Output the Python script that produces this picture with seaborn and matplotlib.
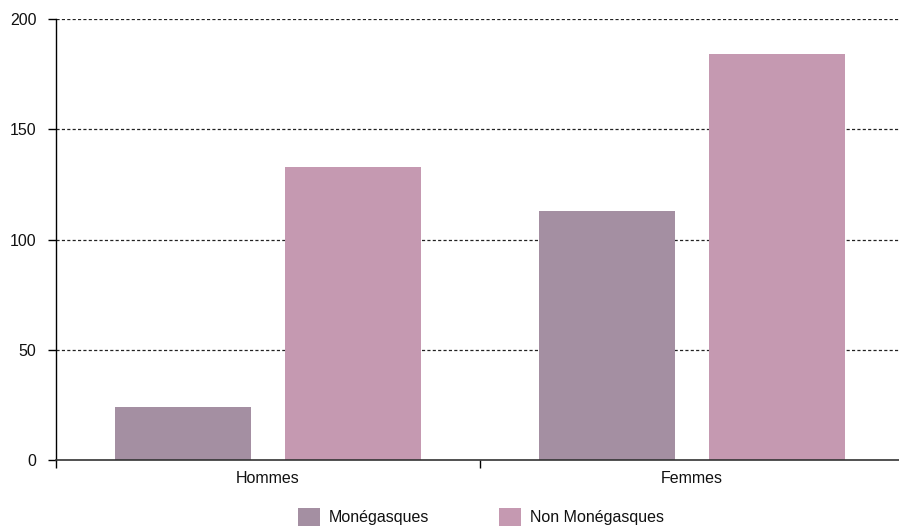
import matplotlib
matplotlib.use("Agg")
import matplotlib.pyplot as plt
import seaborn as sns
import pandas as pd
from matplotlib.patches import Patch

categories = ["Hommes", "Femmes"]
series_names = ["Monégasques", "Non Monégasques"]
monegasques = [24, 113]
non_monegasques = [133, 184]
y_ticks = [0, 50, 100, 150, 200]
colors = ["#a48fa2", "#c599b1"]

df = pd.DataFrame({
    "cat": categories * 2,
    "serie": [series_names[0]] * 2 + [series_names[1]] * 2,
    "val": monegasques + non_monegasques,
})

sns.set_style("white")
plt.rcParams["font.family"] = ["Liberation Sans", "DejaVu Sans"]
plt.rcParams["text.color"] = "#111111"
plt.rcParams["xtick.color"] = "#111111"
plt.rcParams["ytick.color"] = "#111111"

FS = 11.5
W, H = 899, 527
fig = plt.figure(figsize=(W / 100, H / 100), dpi=100)
ax = fig.add_axes([56 / W, (H - 460) / H, 848 / W, (460 - 19) / H])

sns.barplot(data=df, x="cat", y="val", hue="serie", order=categories,
            hue_order=series_names, palette=colors, width=0.8, gap=0.2,
            saturation=1, ax=ax, legend=False, linewidth=0)

ax.set_xlim(-0.5, 1.5)
ax.set_ylim(0, 200)
ax.set_yticks(y_ticks)
ax.set_yticklabels([str(v) for v in y_ticks], fontsize=FS)
ax.set_xticks([0, 1])
ax.set_xticklabels(categories, fontsize=FS)
ax.set_xticks([-0.5, 0.5, 1.5], minor=True)
ax.tick_params(axis="x", which="major", length=0, pad=8, bottom=False)
ax.tick_params(axis="x", which="minor", length=6, width=1, color="black",
               direction="out", bottom=True)
ax.tick_params(axis="y", length=6, width=1, color="black", direction="out",
               pad=8, left=True)
ax.set_xlabel("")
ax.set_ylabel("")

for v in y_ticks[1:]:
    ax.axhline(v, color="#222222", linestyle=(0, (2.5, 1.8)), linewidth=0.9, zorder=0)

for s in ["top", "right"]:
    ax.spines[s].set_visible(False)
ax.spines["left"].set_color("black")
ax.spines["bottom"].set_color("#333333")
ax.spines["left"].set_linewidth(1)
ax.spines["bottom"].set_linewidth(1.2)

handles = [Patch(facecolor=c, edgecolor="none") for c in colors]
fig.legend(handles, series_names, loc="center",
           bbox_to_anchor=(481 / W, (H - 517) / H),
           ncol=2, frameon=False, fontsize=FS, handlelength=1.375, handleheight=1.375,
           columnspacing=4.4, handletextpad=0.56, borderpad=0)

fig.savefig("out.png", dpi=100)
